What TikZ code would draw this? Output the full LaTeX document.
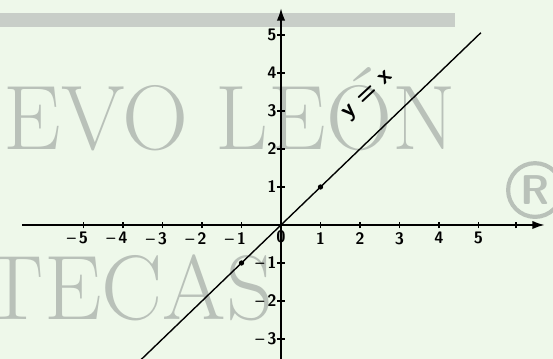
\documentclass[tikz,border=0pt]{standalone}
\usepackage{tikz}
\usetikzlibrary{arrows.meta, positioning}
\definecolor{scanbg}{HTML}{EEF8EA}
\definecolor{wmgray}{HTML}{B9C1B9}
\definecolor{bandgray}{HTML}{C8CEC8}

\begin{document}
\begin{tikzpicture}[x=1cm, y=0.962cm,
  axisline/.style={line width=1.4pt},
  tickmark/.style={line width=1pt},
  ticklabel/.style={font=\sffamily\bfseries\large, inner sep=1pt},
  graphline/.style={line width=1pt},
  dotmark/.style={circle, fill=black, inner sep=0pt, minimum size=3.8pt},
  watermark/.style={font=\fontsize{66}{66}\selectfont, text=wmgray, inner sep=0pt},
]
  % scanned page
  \fill[scanbg] (-7.114,-3.526) rectangle (6.886,5.921);
  \useasboundingbox (-7.114,-3.526) rectangle (6.886,5.921);
  \fill[bandgray] (-7.114,5.21) rectangle (4.41,5.58);

  % watermark
  \node[watermark] (wmtop) at (-1.3,3.05) {EVO LEÓN};
  \node[watermark] (wmbottom) at (-3.87,-1.66) {TECAS};
  \node[circle, draw=wmgray, line width=3pt, minimum size=1.36cm, inner sep=0pt,
    text=wmgray, font=\sffamily\bfseries\fontsize{30}{30}\selectfont] (wmreg) at (6.43,0.92) {R};

  % axes
  \coordinate (xstart) at (-6.56,0);
  \coordinate (xend) at (6.68,0);
  \coordinate (ystart) at (0,-3.6);
  \coordinate (yend) at (0,5.71);
  \draw[axisline, -{Latex[length=9pt,width=6pt]}] (xstart) -- (xend);
  \draw[axisline, -{Latex[length=9pt,width=6pt]}] (ystart) -- (yend);

  % ticks
  \foreach \i in {1,...,5} {
    \draw[tickmark] (\i,-0.09) -- (\i,0.09);
    \draw[tickmark] (-\i,-0.09) -- (-\i,0.09);
    \node[ticklabel, below=4pt] (xpos\i) at (\i,0) {\i};
    \node[ticklabel, below=4pt] (xneg\i) at (-\i,0) {\llap{--\,}\i};
    \draw[tickmark] (-0.09,\i) -- (0.09,\i);
    \node[ticklabel, left=2pt] (ypos\i) at (0,\i) {\i};
  }
  \foreach \i in {1,...,3} {
    \draw[tickmark] (-0.09,-\i) -- (0.09,-\i);
    \node[ticklabel, left=2pt] (yneg\i) at (0,-\i) {--\,\i};
  }
  \draw[tickmark] (5.95,-0.09) -- (5.95,0.09);
  \coordinate (origin) at (0,0);
  \node[ticklabel, below=3pt of origin] (zero) {0};

  % y = x
  \coordinate (linestart) at (-3.62,-3.62);
  \coordinate (lineend) at (5.06,5.06);
  \draw[graphline] (linestart) -- (lineend);
  \node[dotmark] (pone) at (1,1) {};
  \node[dotmark] (mone) at (-1,-1) {};
  \node[font=\sffamily\bfseries\LARGE, rotate=43] (lbl) at (2.22,3.38) {y = x};
\end{tikzpicture}
\end{document}
